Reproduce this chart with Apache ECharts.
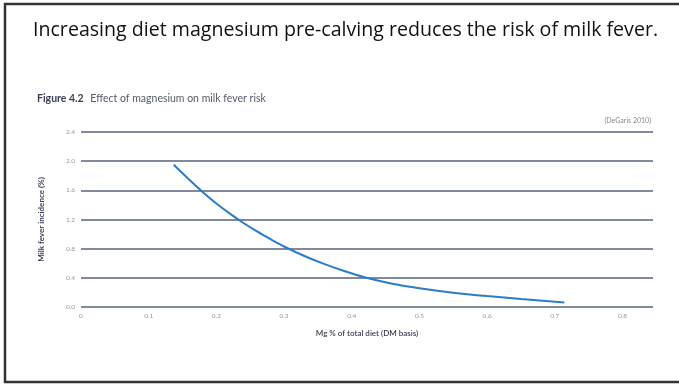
<!DOCTYPE html>
<html><head><meta charset="utf-8">
<script src="https://cdn.jsdelivr.net/npm/echarts@6/dist/echarts.min.js"></script>
<style>html,body{margin:0;padding:0;background:#fff}#c{width:679px;height:386px}</style>
</head><body><div id="c"></div>
<script>
const heading = "Increasing diet magnesium pre-calving reduces the risk of milk fever.";
const figLabel = "Figure 4.2";
const figTitle = "Effect of magnesium on milk fever risk";
const source = "(DeGaris 2010)";
const xName = "Mg % of total diet (DM basis)";
const yName = "Milk fever incidence (%)";
const mgPct = [0.137, 0.16, 0.18, 0.2, 0.22, 0.24, 0.26, 0.28, 0.30, 0.33, 0.36, 0.39, 0.42, 0.46, 0.50, 0.55, 0.60, 0.65, 0.714];
const incidence = [1.95, 1.745, 1.575, 1.42, 1.28, 1.152, 1.036, 0.93, 0.83, 0.70, 0.588, 0.49, 0.405, 0.32, 0.258, 0.197, 0.150, 0.11, 0.063];

const chart = echarts.init(document.getElementById('c'), null, {renderer: 'canvas'});
const gridCol = '#56627f';
chart.setOption({
  animation: false,
  graphic: [
    {type: 'rect', shape: {x: 5, y: 4, width: 700, height: 378}, style: {fill: 'none', stroke: '#333', lineWidth: 2.5}},
    {type: 'text', x: 33, y: 30, style: {text: heading, font: '19.6px "Open Sans"', fill: '#111', verticalAlign: 'middle'}},
    {type: 'text', left: 37, top: 93, style: {rich: {b: {fontWeight: 'bold', fontSize: 10.5, fontFamily: 'Lato', fill: '#3a3f55'}, n: {fontSize: 10.5, fontFamily: 'Lato', fill: '#555a6c'}}, text: '{b|' + figLabel + '}  {n|' + figTitle + '}'}},
    {type: 'text', right: 28, top: 117, style: {text: source, fontSize: 7, fontFamily: 'Lato', fill: '#888', textAlign: 'right'}}
  ],
  grid: {left: 81, right: 26, top: 132, bottom: 79, containLabel: false},
  xAxis: {
    type: 'value', min: 0, max: 0.845, interval: 0.1,
    name: xName, nameLocation: 'middle', nameGap: 22,
    nameTextStyle: {fontSize: 8, fontFamily: 'Lato', fontWeight: 600, color: '#3a3f55'},
    axisLine: {show: false}, axisTick: {show: false}, splitLine: {show: false},
    axisLabel: {fontSize: 6.5, fontFamily: 'Lato', color: '#999', margin: 5, showMaxLabel: false,
      formatter: v => v === 0 ? '0' : v.toFixed(1)}
  },
  yAxis: {
    type: 'value', min: 0, max: 2.4, interval: 0.4,
    name: yName, nameLocation: 'middle', nameGap: 36, nameRotate: 90,
    nameTextStyle: {fontSize: 8, fontFamily: 'Lato', fontWeight: 'bold', color: '#3a3f55'},
    axisLine: {show: false}, axisTick: {show: false},
    splitLine: {show: true, lineStyle: {color: gridCol, width: 1.5}},
    axisLabel: {fontSize: 6.5, fontFamily: 'Lato', color: '#999', margin: 6, formatter: v => v.toFixed(1)}
  },
  series: [{
    type: 'line', smooth: 0.3, symbol: 'none',
    lineStyle: {color: '#2b7cc9', width: 2},
    data: mgPct.map((x, i) => [x, incidence[i]])
  }]
});
</script></body></html>
